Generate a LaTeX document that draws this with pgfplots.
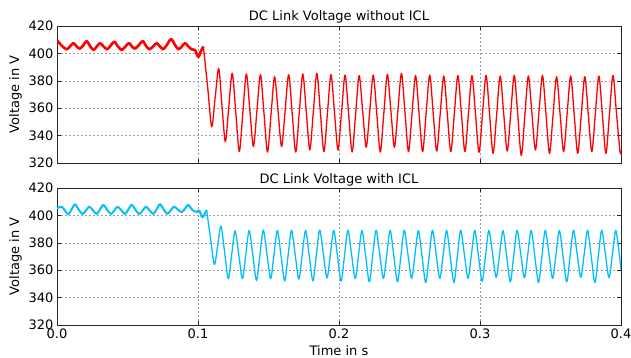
\documentclass[border=0pt]{standalone}
\usepackage{fontspec}
\setmainfont{DejaVu Sans}
\usepackage{pgfplots}
\pgfplotsset{compat=1.18}
\definecolor{dsb}{RGB}{0,191,255}
\definecolor{myred}{RGB}{255,0,0}
\pgfplotsset{
  volt/.style={
    scale only axis, width=564bp, height=137bp,
    xmin=0, xmax=0.4, ymin=320, ymax=420,
    ytick={320,340,360,380,400,420}, xtick={0,0.1,0.2,0.3,0.4},
    grid=major,
    major grid style={gray!75, dash pattern=on 2bp off 2bp, line width=0.5bp},
    axis line style={black!85, line width=0.9bp},
    tick style={black!85, line width=0.6bp},
    major tick length=4bp,
    /pgf/number format/assume math mode=true,
    tick label style={font=\fontsize{13bp}{15bp}\selectfont},
    label style={font=\fontsize{13bp}{15bp}\selectfont},
    every axis title/.style={at={(0.5,1)}, anchor=base, yshift=5bp, font=\fontsize{13bp}{15bp}\selectfont},
    ylabel={Voltage in V},
    every axis y label/.style={at={(ticklabel cs:0.5)}, rotate=90, anchor=near ticklabel},
    no markers,
  }
}
\begin{document}
\begin{tikzpicture}[font=\fontsize{13bp}{15bp}\selectfont]
\begin{axis}[volt, name=top, at={(0,0)}, anchor=north west,
  title={DC Link Voltage without ICL}, xticklabels={}]
\addplot[myred, line width=2.6bp, smooth, line join=round] coordinates {
(0.0000,409.5)(0.0035,405.5)(0.0068,403.0)(0.0092,405.0)(0.0116,407.5)(0.0140,405.0)
(0.0163,403.5)(0.0187,406.0)(0.0210,409.0)(0.0234,405.5)(0.0258,402.5)(0.0282,405.0)
(0.0305,407.5)(0.0331,405.0)(0.0357,403.0)(0.0382,406.0)(0.0407,408.5)(0.0433,405.0)
(0.0459,402.5)(0.0485,405.0)(0.0511,407.5)(0.0532,405.0)(0.0553,403.5)(0.0580,406.0)
(0.0608,409.0)(0.0631,405.5)(0.0655,403.0)(0.0681,405.0)(0.0707,407.5)(0.0731,405.0)
(0.0754,403.0)(0.0781,406.5)(0.0809,410.5)(0.0835,406.5)(0.0861,403.0)(0.0885,405.0)
(0.0908,407.5)(0.0932,405.0)(0.0955,403.0)(0.0978,402.5)(0.1002,397.5)(0.1020,401.5)
(0.1038,405.0)
};
\addplot[myred, line width=1.3bp, smooth, line join=round] coordinates {
(0.1038,405.0)(0.1068,376.0)(0.1097,346.5)(0.1122,368.0)(0.1147,389.0)(0.1170,362.0)
(0.1194,335.6)(0.1218,360.5)
(0.1243,385.5)(0.1268,356.9)(0.1293,328.3)(0.1318,356.7)
(0.1343,385.0)(0.1368,358.5)(0.1393,332.0)(0.1418,358.3)
(0.1443,384.5)(0.1468,356.3)(0.1493,328.0)(0.1518,355.5)
(0.1543,383.0)(0.1568,357.5)(0.1593,332.0)(0.1618,358.3)
(0.1643,384.5)(0.1668,356.3)(0.1693,328.0)(0.1718,356.5)
(0.1743,385.0)(0.1768,357.3)(0.1793,329.5)(0.1818,357.5)
(0.1843,385.5)(0.1868,356.9)(0.1893,328.3)(0.1918,356.4)
(0.1943,384.5)(0.1968,357.0)(0.1993,329.5)(0.2018,356.9)
(0.2043,384.2)(0.2068,356.1)(0.2093,328.0)(0.2118,355.9)
(0.2143,383.8)(0.2168,357.7)(0.2193,331.5)(0.2218,357.9)
(0.2243,384.2)(0.2268,356.1)(0.2293,328.0)(0.2318,356.4)
(0.2343,384.7)(0.2368,358.1)(0.2393,331.5)(0.2418,358.5)
(0.2443,385.5)(0.2468,356.9)(0.2493,328.3)(0.2518,356.1)
(0.2543,383.8)(0.2568,356.1)(0.2593,328.3)(0.2618,356.3)
(0.2643,384.2)(0.2668,356.5)(0.2693,328.7)(0.2718,356.1)
(0.2743,383.5)(0.2768,355.9)(0.2793,328.3)(0.2818,356.1)
(0.2843,383.8)(0.2868,356.1)(0.2893,328.3)(0.2918,356.1)
(0.2943,383.8)(0.2968,355.8)(0.2993,327.8)(0.3018,355.9)
(0.3043,384.0)(0.3068,355.5)(0.3093,327.0)(0.3118,355.3)
(0.3143,383.5)(0.3168,356.1)(0.3193,328.7)(0.3218,356.4)
(0.3243,384.0)(0.3268,354.8)(0.3293,325.5)(0.3318,354.5)
(0.3343,383.5)(0.3368,356.5)(0.3393,329.5)(0.3418,356.8)
(0.3443,384.0)(0.3468,355.5)(0.3493,327.0)(0.3518,355.0)
(0.3543,383.0)(0.3568,355.7)(0.3593,328.3)(0.3618,355.9)
(0.3643,383.5)(0.3668,355.3)(0.3693,327.0)(0.3718,355.0)
(0.3743,383.0)(0.3768,355.7)(0.3793,328.3)(0.3818,355.9)
(0.3843,383.5)(0.3868,355.3)(0.3893,327.0)(0.3918,355.5)
(0.3943,384.0)(0.3968,356.2)(0.3993,328.3)(0.4000,328.8)
};
\end{axis}
\begin{axis}[volt, name=bot, at={(0,-162bp)}, anchor=north west,
  title={DC Link Voltage with ICL}, xticklabels={0.0,0.1,0.2,0.3,0.4},
  xlabel={Time in s}]
\addplot[dsb, line width=2.0bp, smooth, line join=round] coordinates {
(0.0000,405.2)(0.0033,406.4)(0.0057,403.5)(0.0080,400.8)(0.0104,404.5)(0.0128,408.1)
(0.0155,404.0)(0.0182,401.0)(0.0206,403.7)(0.0229,406.4)(0.0255,403.7)(0.0281,401.0)
(0.0305,404.3)(0.0329,407.7)(0.0356,404.0)(0.0383,401.0)(0.0407,403.7)(0.0430,406.4)
(0.0456,403.7)(0.0482,401.0)(0.0506,404.3)(0.0530,407.7)(0.0557,404.0)(0.0584,401.0)
(0.0608,403.7)(0.0631,406.4)(0.0657,403.7)(0.0683,401.0)(0.0707,404.5)(0.0730,408.1)
(0.0756,404.5)(0.0782,401.0)(0.0806,403.7)(0.0830,406.4)(0.0857,404.3)(0.0884,402.3)
(0.0908,405.0)(0.0931,407.7)(0.0960,404.0)(0.0990,402.5)(0.1010,403.5)(0.1031,398.6)
(0.1061,404.0)
};
\addplot[dsb, line width=1.3bp, smooth, line join=round] coordinates {
(0.1061,404.0)(0.1088,384.0)(0.1116,364.3)(0.1140,378.3)(0.1163,392.2)(0.1189,373.0)
(0.1215,353.8)(0.1239,371.4)
(0.1263,388.7)(0.1289,371.3)(0.1315,353.8)(0.1339,371.4)
(0.1363,389.0)(0.1389,370.8)(0.1415,352.5)(0.1439,370.9)
(0.1463,389.3)(0.1489,371.6)(0.1515,353.8)(0.1539,371.4)
(0.1563,389.0)(0.1589,370.6)(0.1615,352.2)(0.1639,370.7)
(0.1663,389.2)(0.1689,371.4)(0.1715,353.5)(0.1739,371.3)
(0.1763,389.0)(0.1789,370.6)(0.1815,352.2)(0.1839,370.8)
(0.1863,389.3)(0.1889,371.8)(0.1915,354.3)(0.1939,371.7)
(0.1963,389.0)(0.1989,370.5)(0.2015,352.0)(0.2039,370.6)
(0.2063,389.1)(0.2089,371.6)(0.2115,354.0)(0.2139,371.5)
(0.2163,388.9)(0.2189,370.2)(0.2215,351.5)(0.2239,370.4)
(0.2263,389.2)(0.2289,371.6)(0.2315,354.0)(0.2339,371.5)
(0.2363,389.0)(0.2389,370.3)(0.2415,351.5)(0.2439,370.4)
(0.2463,389.2)(0.2489,371.6)(0.2515,354.0)(0.2539,371.5)
(0.2563,388.9)(0.2589,370.0)(0.2615,351.0)(0.2639,370.1)
(0.2663,389.1)(0.2689,371.6)(0.2715,354.0)(0.2739,371.5)
(0.2763,389.0)(0.2789,370.0)(0.2815,351.0)(0.2839,370.1)
(0.2863,389.2)(0.2889,371.6)(0.2915,354.0)(0.2939,371.5)
(0.2963,389.0)(0.2989,370.4)(0.3015,351.8)(0.3039,370.5)
(0.3063,389.1)(0.3089,372.0)(0.3115,354.8)(0.3139,371.9)
(0.3163,388.9)(0.3189,370.2)(0.3215,351.5)(0.3239,370.4)
(0.3263,389.2)(0.3289,371.9)(0.3315,354.5)(0.3339,371.8)
(0.3363,389.0)(0.3389,370.0)(0.3415,351.0)(0.3439,370.1)
(0.3463,389.1)(0.3489,371.6)(0.3515,354.0)(0.3539,371.5)
(0.3563,388.9)(0.3589,370.2)(0.3615,351.5)(0.3639,370.4)
(0.3663,389.2)(0.3689,372.0)(0.3715,354.8)(0.3739,371.9)
(0.3763,389.0)(0.3789,370.0)(0.3815,351.0)(0.3839,370.1)
(0.3863,389.1)(0.3889,371.8)(0.3915,354.5)(0.3939,371.8)
(0.3963,389.0)(0.3989,370.5)(0.4000,360.5)
};
\end{axis}
\pgfresetboundingbox
\path[use as bounding box] (-57bp,26bp) rectangle (574bp,-332bp);
\end{tikzpicture}
\end{document}
